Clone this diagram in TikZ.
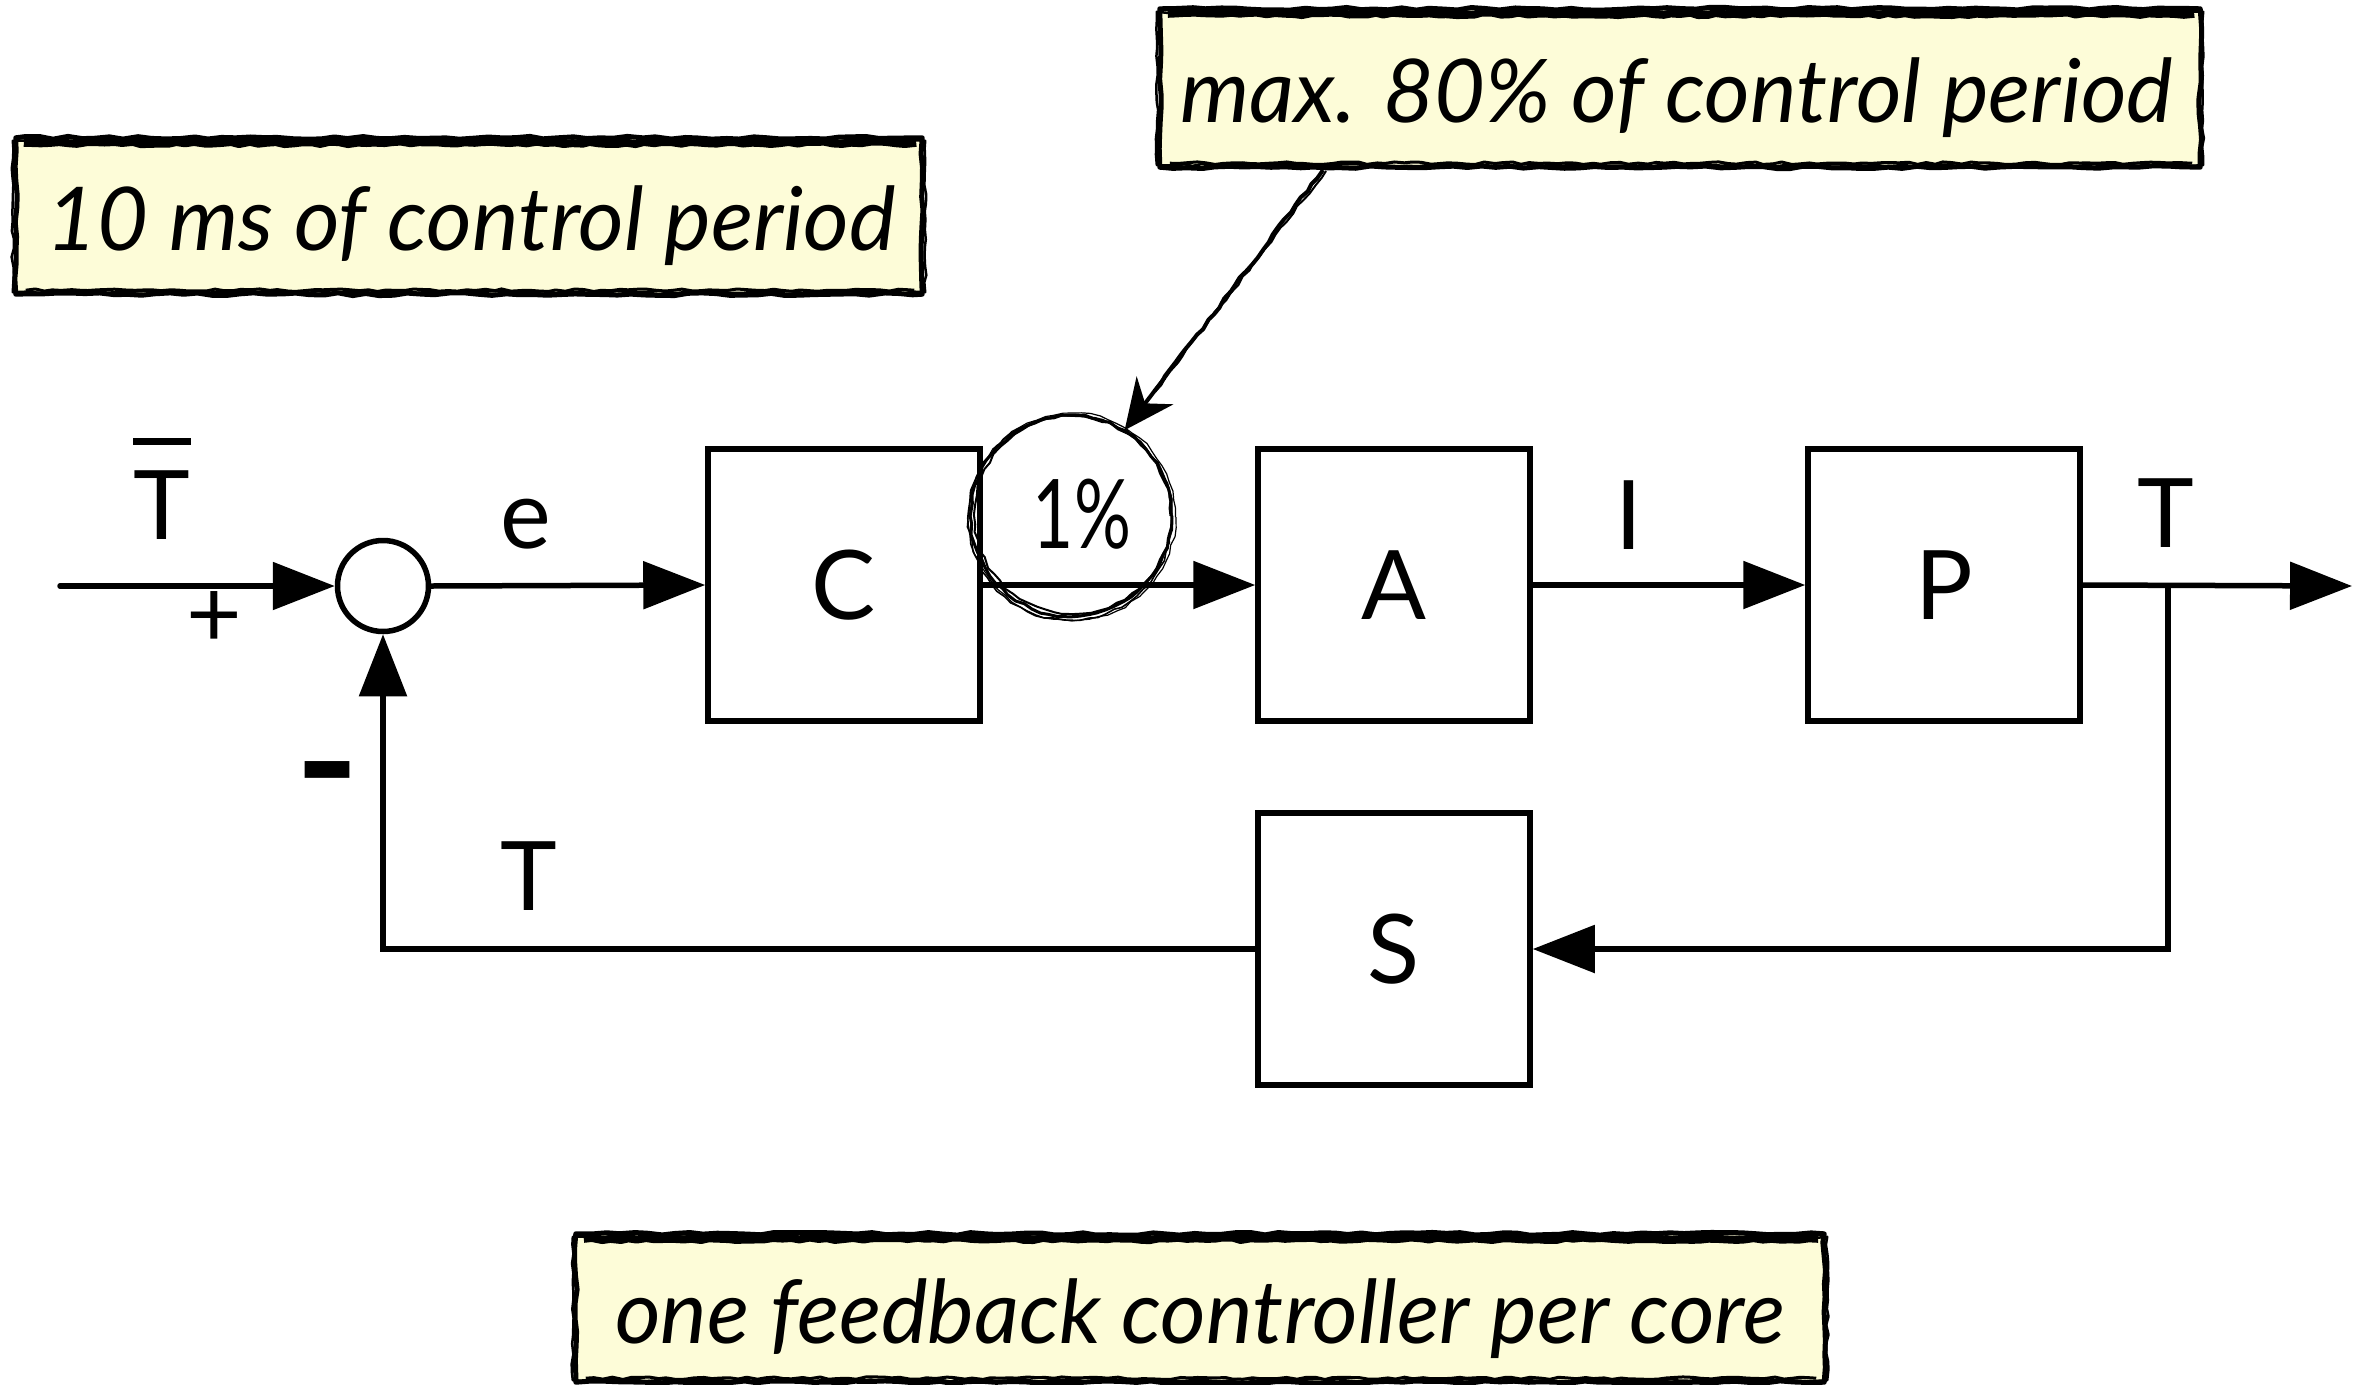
\documentclass[tikz,border=0pt]{standalone}
\usepackage{fontspec}
\setmainfont{Lato}
\usetikzlibrary{arrows.meta,decorations.pathmorphing,calc}
\definecolor{notefill}{HTML}{FDFCD8}
\begin{document}
\begin{tikzpicture}[x=1pt,y=-1pt,
  sig/.style={line width=5.5pt, line cap=round, -{Triangle[length=62pt,width=47pt]}},
  blockbox/.style={draw, line width=5.5pt, minimum width=272pt, minimum height=272pt, inner sep=0pt, font=\fontsize{96}{100}\selectfont},
  lbl/.style={font=\fontsize{96}{100}\selectfont, inner sep=0pt, anchor=base},
  notebox/.style={fill=notefill, inner sep=0pt},
  notetext/.style={font=\fontsize{88}{92}\selectfont\itshape, inner sep=0pt, anchor=base},
  sketch/.style={decorate, decoration={random steps, segment length=9pt, amplitude=1.3pt}, line width=1.6pt, line join=round},
  sketchborder/.style={decorate, decoration={random steps, segment length=14pt, amplitude=1.4pt}, line width=5pt, line join=round},
]
\pgfmathsetseed{7}
\useasboundingbox (0,0) rectangle (2358,1384);

% notes
\node[notebox, minimum width=906pt, minimum height=156pt] (n1) at (469,216) {};
\node[notebox, minimum width=1040pt, minimum height=158pt] (n2) at (1680,88) {};
\node[notebox, minimum width=1248pt, minimum height=148pt] (n3) at (1200,1308) {};
\foreach \n in {n1,n2,n3}{
  \draw[sketchborder] (\n.north west) rectangle (\n.south east);
  \draw[sketch, line width=2.5pt] ($(\n.north west)+(-3,3)$) rectangle ($(\n.south east)+(3,-2)$);
  \draw[sketch, line width=8pt] ($(\n.north west)+(8,5)$) -- ($(\n.north east)+(-6,5)$);
  \draw[sketch, line width=3pt] ($(\n.south west)+(10,-4)$) -- ($(\n.south east)+(-8,-4)$);
}
\node[notetext] (n1t) at (471,250) {10 ms of control period};
\node[notetext] (n2t) at (1677,122) {max. 80\% of control period};
\node[notetext] (n3t) at (1200,1343) {one feedback controller per core};

% blocks
\node[blockbox] (C) at (844,585) {C};
\node[blockbox] (A) at (1394,585) {A};
\node[blockbox] (P) at (1944,585) {P};
\node[blockbox] (S) at (1394,949) {S};
\node[draw, circle, line width=5.5pt, minimum size=91pt, inner sep=0pt] (sum) at (383,586) {};
\coordinate (in) at (60,586);
\coordinate (out) at (2352,586);
\coordinate (br) at (2168,586);

\draw[sig] (in) -- (sum.west);
\draw[sig] (sum.east) -- (C.west);
\draw[sig] (C.east) -- (A.west);
\draw[sig] (A.east) -- (P.west);
\draw[sig] (P.east) -- (out);
\draw[sig] (br) |- (S.east);
\draw[sig] (S.west) -| (sum.south);

% labels
\node[lbl] (Tbar) at (162,539) {\vbox{\offinterlineskip\hbox{\rule{58pt}{7pt}}\kern25pt\hbox to 58pt{\hss T\hss}}};
\node[lbl, anchor=center] (plus) at (214,620) {+};
\node[lbl] (elbl) at (526,548) {e};
\node[lbl] (Ilbl) at (1629,549) {I};
\node[lbl] (Tout) at (2166,547) {T};
\node[lbl, anchor=center] (minus) at (328,795) {\scalebox{1.15}[2]{\bfseries –}};
\node[lbl] (Tfb) at (529,910) {T};

% 1% circle
\node[circle, minimum size=202pt, inner sep=0pt] (pct) at (1071,516) {};
\node[lbl] (pcttext) at (1082,548) {\scalebox{0.74}[1]{1\%}};
\draw[sketch, line width=3pt] (pct.center) circle (100pt);
\draw[sketch, line width=2pt] ($(pct.center)+(2,-1)$) circle (98.5pt);
\draw[sketch, line width=1.6pt] ($(pct.center)+(-1,2)$) circle (102pt);
\draw[sketch, line width=1.2pt] ($(pct.center)+(1,1)$) circle (103.5pt);

% pointer
\coordinate (ptr) at (1323,170);
\draw[sketch, line width=4pt] (ptr) -- ($(ptr)!0.85!(pct.58)$);
\draw[sketch, line width=2pt] ($(ptr)+(3,1)$) -- ($(ptr)!0.85!(pct.58)$);
\draw[line width=4pt, -{Stealth[length=50pt,width=46pt]}] ($(ptr)!0.8!(pct.58)$) -- (pct.58);
\end{tikzpicture}
\end{document}
